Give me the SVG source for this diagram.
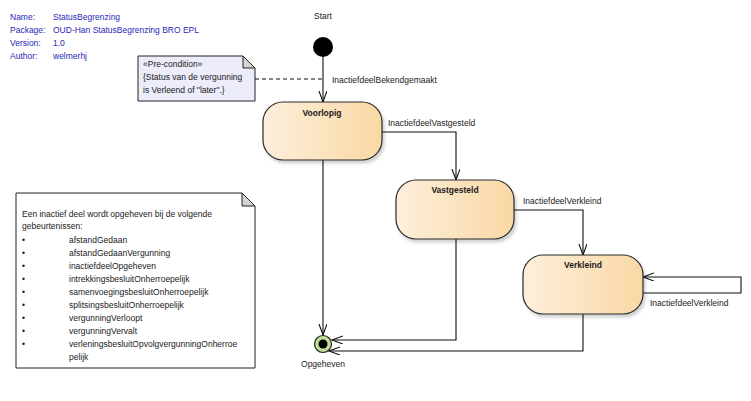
<svg xmlns="http://www.w3.org/2000/svg" width="751" height="401" viewBox="0 0 751 401">
<style>
text{font-family:"Liberation Sans","DejaVu Sans",sans-serif;font-size:8.5px;fill:#1a1a1a}
.hdr{fill:#2828b8}
.title{font-weight:bold;text-anchor:middle}
.state{stroke:#2a2a2a;stroke-width:1.2;fill:url(#sg);filter:url(#sh)}
.note{stroke:#222;stroke-width:1}
.fold{fill:#d4d4d4;stroke:#222;stroke-width:1}
.conn path{fill:none;stroke:#111;stroke-width:1.1}
</style>
<defs>
<linearGradient id="sg" x1="0" y1="0" x2="1" y2="0">
<stop offset="0" stop-color="#fdefdc"/>
<stop offset="1" stop-color="#f9d8a4"/>
</linearGradient>
<filter id="sh" x="-10%" y="-10%" width="130%" height="130%">
<feDropShadow dx="2" dy="3" stdDeviation="1.5" flood-color="#000" flood-opacity="0.18"/>
</filter>
<marker id="open" markerWidth="12" markerHeight="10" refX="11" refY="4" orient="auto" markerUnits="userSpaceOnUse">
<path d="M0,0 L11,4 L0,8" fill="none" stroke="#111" stroke-width="1.1"/>
</marker>
</defs>
<rect width="751" height="401" fill="#fff"/>

<g id="header">
<text class="hdr" x="10" y="20">Name:</text>
<text class="hdr" x="53" y="20">StatusBegrenzing</text>
<text class="hdr" x="10" y="33">Package:</text>
<text class="hdr" x="53" y="33">OUD-Han StatusBegrenzing BRO EPL</text>
<text class="hdr" x="10" y="46">Version:</text>
<text class="hdr" x="53" y="46">1.0</text>
<text class="hdr" x="10" y="59">Author:</text>
<text class="hdr" x="53" y="59">welmerhj</text>
</g>

<g class="conn" id="connectors">
<path d="M255,79 H323" stroke-dasharray="4,3"/>
<path d="M323,57 V102" marker-end="url(#open)"/>
<path d="M382,132 H456 V180" marker-end="url(#open)"/>
<path d="M514,210 H583 V255" marker-end="url(#open)"/>
<path d="M643,293 H741 V277 H643" marker-end="url(#open)"/>
<path d="M323,160 V335" marker-end="url(#open)"/>
<path d="M456,239 V340 H332" marker-end="url(#open)"/>
<path d="M583,314 V351 H329" marker-end="url(#open)"/>
<text x="332" y="83">InactiefdeelBekendgemaakt</text>
<text x="388" y="126">InactiefdeelVastgesteld</text>
<text x="523" y="204">InactiefdeelVerkleind</text>
<text x="650" y="306">InactiefdeelVerkleind</text>
</g>

<g id="precondition">
<path class="note" d="M138,56 H243 L255,68 V101 H138 Z" fill="#ececfb"/>
<path class="fold" d="M243,56 V68 H255 Z"/>
<text x="143" y="67">«Pre-condition»</text>
<text x="143" y="80">{Status van de vergunning</text>
<text x="143" y="93">is Verleend of "later".}</text>
</g>

<g id="start">
<text x="323" y="19" text-anchor="middle">Start</text>
<circle cx="323" cy="47" r="10" fill="#000"/>
</g>

<g id="voorlopig">
<rect class="state" x="263" y="102" width="119" height="58" rx="20" ry="20"/>
<text class="title" x="322" y="116">Voorlopig</text>
</g>

<g id="vastgesteld">
<rect class="state" x="396" y="180" width="118" height="59" rx="20" ry="20"/>
<text class="title" x="455" y="193">Vastgesteld</text>
</g>

<g id="verkleind">
<rect class="state" x="523" y="255" width="120" height="59" rx="20" ry="20"/>
<text class="title" x="583" y="268">Verkleind</text>
</g>

<g id="opgeheven">
<circle cx="323" cy="344" r="8.5" fill="#c3df95" stroke="#222" stroke-width="1.2"/>
<circle cx="323" cy="344" r="4.5" fill="#000"/>
<text x="323" y="367" text-anchor="middle">Opgeheven</text>
</g>

<g id="eventsnote">
<path class="note" d="M16,193 H242 L255,206 V368 H16 Z" fill="#fff"/>
<path class="fold" d="M242,193 V206 H255 Z"/>
<text x="22" y="217">Een inactief deel wordt opgeheven bij de volgende</text>
<text x="22" y="229">gebeurtenissen:</text>
<g>
<text x="22" y="243">•</text><text x="69" y="243">afstandGedaan</text>
<text x="22" y="256">•</text><text x="69" y="256">afstandGedaanVergunning</text>
<text x="22" y="269">•</text><text x="69" y="269">inactiefdeelOpgeheven</text>
<text x="22" y="282">•</text><text x="69" y="282">intrekkingsbesluitOnherroepelijk</text>
<text x="22" y="295">•</text><text x="69" y="295">samenvoegingsbesluitOnherroepelijk</text>
<text x="22" y="308">•</text><text x="69" y="308">splitsingsbesluitOnherroepelijk</text>
<text x="22" y="321">•</text><text x="69" y="321">vergunningVerloopt</text>
<text x="22" y="334">•</text><text x="69" y="334">vergunningVervalt</text>
<text x="22" y="347">•</text><text x="69" y="347">verleningsbesluitOpvolgvergunningOnherroe</text>
<text x="69" y="360">pelijk</text>
</g>
</g>
</svg>
